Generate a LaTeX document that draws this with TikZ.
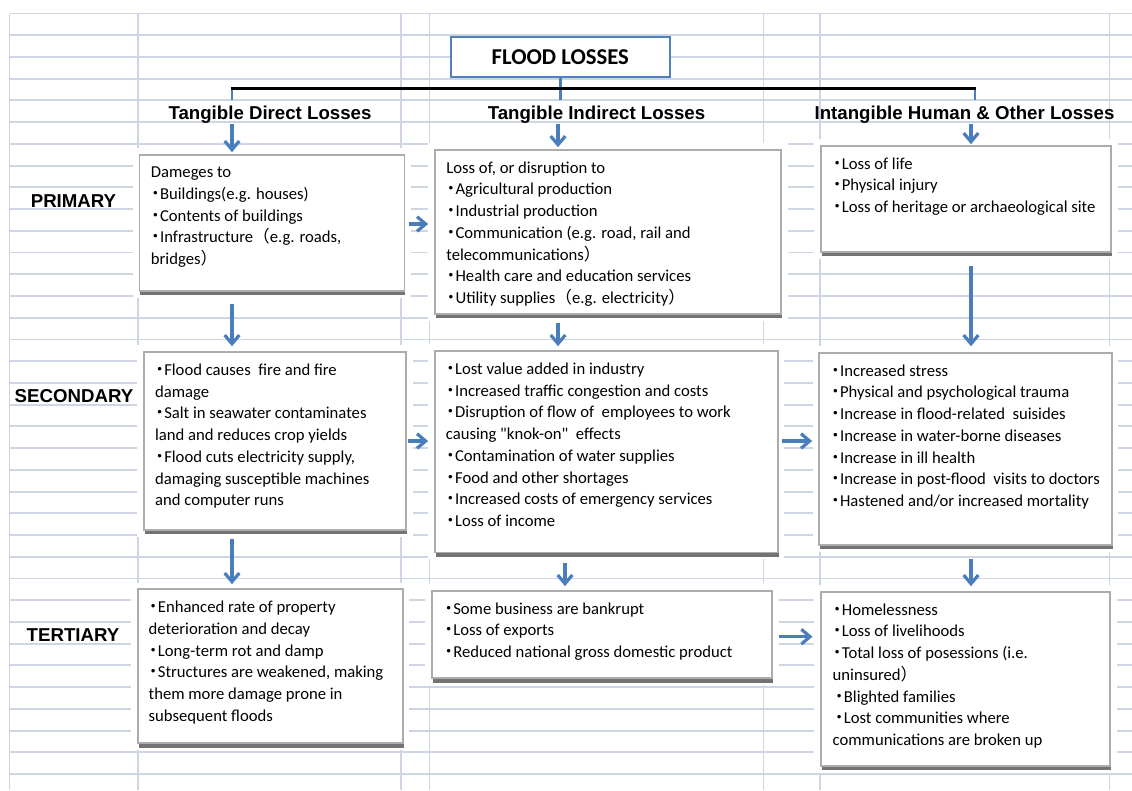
\documentclass[tikz,border=0pt]{standalone}
\usepackage{fontspec}
\setmainfont{Carlito}
\newfontfamily\headfont{Liberation Sans}
\newfontfamily\jpfont{Noto Sans CJK JP}
\usetikzlibrary{arrows.meta,fit,shadows,backgrounds}
\definecolor{gridline}{RGB}{206,214,230}
\definecolor{flowblue}{RGB}{74,126,187}
\definecolor{titleblue}{RGB}{79,129,189}
\definecolor{boxline}{RGB}{172,172,172}
\newcommand{\bl}{\makebox[0.55em][c]{\jpfont ・}}
\newcommand{\lp}{{\jpfont （}}
\newcommand{\rp}{{\jpfont ）}}

\begin{document}
\begin{tikzpicture}[x=0.75pt, y=-0.75pt,
  gridln/.style={draw=gridline, line width=1.4pt},
  box/.style={preaction={draw=white, line width=10pt},
    drop shadow={shadow xshift=0.6pt, shadow yshift=-3.2pt, fill=black!55, opacity=1},
    draw=boxline, line width=1.3pt, fill=white, inner sep=0pt},
  txt/.style={anchor=north west, align=left, inner sep=0pt,
    font=\fontsize{12.5pt}{16.3pt}\selectfont},
  head/.style={anchor=base, inner sep=0pt, font=\headfont\bfseries\fontsize{14pt}{16pt}\selectfont},
  level/.style={anchor=base, inner sep=0pt, font=\headfont\bfseries\fontsize{14pt}{16pt}\selectfont},
  title/.style={draw=titleblue, line width=1.5pt, fill=white, minimum width=164.5pt,
    minimum height=30.5pt, font=\bfseries\fontsize{17pt}{20pt}\selectfont},
  link/.style={draw=flowblue, line width=2pt},
  bar/.style={draw=black, line width=2.6pt},
  arr/.style={draw=flowblue, line width=2.4pt, -{Straight Barb[length=6.5pt, width=11pt]}}]
\useasboundingbox (0,0) rectangle (1132,790);

% title and branches
\node[title] (top) at (560.3,57) {FLOOD LOSSES};
\coordinate (ca) at (232,88.3);
\coordinate (cc) at (975,88.3);
\coordinate (ta) at (232,100);
\coordinate (tb) at (560.3,100);
\coordinate (tc) at (975,99.5);
\draw[link] (top.south) -- (tb);
\draw[link] (ca) -- (ta); \draw[link] (cc) -- (tc);
\draw[bar] ([xshift=-0.9pt]ca) -- ([xshift=0.9pt]cc);

\node[head] (h1) at (270,119.3) {Tangible Direct Losses};
\node[head] (h2) at (596.5,119.3) {Tangible Indirect Losses};
\node[head] (h3) at (964.5,119.3) {Intangible Human \& Other Losses};

\node[level] (prim) at (73.5,207.3) {PRIMARY};
\node[level] (sec) at (74,402.7) {SECONDARY};
\node[level] (ter) at (73,641.7) {TERTIARY};

% boxes
\node[box, fit={(139.5,155) (404.5,291)}] (a1) {};
\node[box, fit={(435,149.7) (781,314)}] (b1) {};
\node[box, fit={(820.7,145.7) (1111,252)}] (c1) {};
\node[box, fit={(143.7,352) (406,530)}] (a2) {};
\node[box, fit={(435,351) (777.7,552.5)}] (b2) {};
\node[box, fit={(819.3,352.7) (1111.7,545)}] (c2) {};
\node[box, fit={(137.7,589.3) (402.7,743.3)}] (a3) {};
\node[box, fit={(431.7,590.7) (772.3,678.3)}] (b3) {};
\node[box, fit={(820.7,591.7) (1110,766)}] (c3) {};

\node[txt] (a1t) at ([shift={(12,12.5)}]a1.north west) {Dameges to\\
  \bl Buildings(e.g. houses)\\ \bl Contents of buildings\\
  \bl Infrastructure\lp e.g. roads,\\ bridges\rp};
\node[txt] (b1t) at ([shift={(12,12.5)}]b1.north west) {Loss of, or disruption to\\
  \bl Agricultural production\\ \bl Industrial production\\
  \bl Communication (e.g. road, rail and\\ telecommunications\rp\\
  \bl Health care and education services\\ \bl Utility supplies\lp e.g. electricity\rp};
\node[txt] (c1t) at ([shift={(12.5,12.5)}]c1.north west) {\bl Loss of life\\
  \bl Physical injury\\ \bl Loss of heritage or archaeological site};
\node[txt] (a2t) at ([shift={(12,12.5)}]a2.north west) {\bl Flood causes\ \ fire and fire\\ damage\\
  \bl Salt in seawater contaminates\\ land and reduces crop yields\\
  \bl Flood cuts electricity supply,\\ damaging susceptible machines\\ and computer runs};
\node[txt] (b2t) at ([shift={(11.5,12.5)}]b2.north west) {\bl Lost value added in industry\\
  \bl Increased traffic congestion and costs\\
  \bl Disruption of flow of\ \ employees to work\\ causing \textquotedbl knok-on\textquotedbl\ \ effects\\
  \bl Contamination of water supplies\\ \bl Food and other shortages\\
  \bl Increased costs of emergency services\\ \bl Loss of income};
\node[txt] (c2t) at ([shift={(12.2,12.5)}]c2.north west) {\bl Increased stress\\
  \bl Physical and psychological trauma\\ \bl Increase in flood-related\ \ suisides\\
  \bl Increase in water-borne diseases\\ \bl Increase in ill health\\
  \bl Increase in post-flood\ \ visits to doctors\\ \bl Hastened and/or increased mortality};
\node[txt] (a3t) at ([shift={(11.6,12.5)}]a3.north west) {\bl Enhanced rate of property\\
  deterioration and decay\\ \bl Long-term rot and damp\\
  \bl Structures are weakened, making\\ them more damage prone in\\ subsequent floods};
\node[txt] (b3t) at ([shift={(13,12.5)}]b3.north west) {\bl Some business are bankrupt\\
  \bl Loss of exports\\ \bl Reduced national gross domestic product};
\node[txt] (c3t) at ([shift={(12.6,12.5)}]c3.north west) {\bl Homelessness\\ \bl Loss of livelihoods\\
  \bl Total loss of posessions (i.e.\\ uninsured\rp\\
  \hspace{1.5pt}\bl Blighted families\\ \hspace{1.5pt}\bl Lost communities where\\
  communications are broken up};

% arrows
\coordinate (cb) at (558,0); \coordinate (cb2) at (565,0); \coordinate (ccx) at (971,0);
\coordinate (r1) at (0,224); \coordinate (r2) at (0,441); \coordinate (r3) at (0,636.7);
\draw[arr, shorten >=1.5pt] (h1.south -| ca) -- (a1.north -| ca);
\draw[arr, shorten >=1.2pt] (h2.south -| cb) -- (b1.north -| cb);
\draw[arr, shorten >=0.5pt] (h3.south -| ccx) -- (c1.north -| ccx);
\draw[arr, shorten <=9pt, shorten >=3.7pt] (a1.south -| ca) -- (a2.north -| ca);
\draw[arr, shorten <=6pt, shorten >=3pt] (b1.south -| cb) -- (b2.north -| cb);
\draw[arr, shorten <=9.7pt, shorten >=4.2pt] (c1.south -| ccx) -- (c2.north -| ccx);
\draw[arr, shorten <=6pt, shorten >=3.2pt] (a2.south -| ca) -- (a3.north -| ca);
\draw[arr, shorten <=7pt, shorten >=2.8pt] (b2.south -| cb2) -- (b3.north -| cb2);
\draw[arr, shorten <=9.7pt, shorten >=3.5pt] (c2.south -| ccx) -- (c3.north -| ccx);
\draw[arr, shorten <=2.6pt, shorten >=4.5pt] (a1.east |- r1) -- (b1.west |- r1);
\draw[arr, shorten <=0.8pt, shorten >=4.5pt] (a2.east |- r2) -- (b2.west |- r2);
\draw[arr, shorten <=2.5pt, shorten >=4.7pt] (b2.east |- r2) -- (c2.west |- r2);
\draw[arr, shorten <=4pt, shorten >=5.5pt] (b3.east |- r3) -- (c3.west |- r3);

\begin{scope}[on background layer]
\foreach \i in {0,...,35}
  \draw[gridln] (9.5,{13.5+21.73*\i}) -- (1132,{13.5+21.73*\i});
\foreach \x in {9.5,138,401,429.5,763.5,820,1109.5}
  \draw[gridln] (\x,13.5) -- (\x,790);
\end{scope}
\end{tikzpicture}
\end{document}
